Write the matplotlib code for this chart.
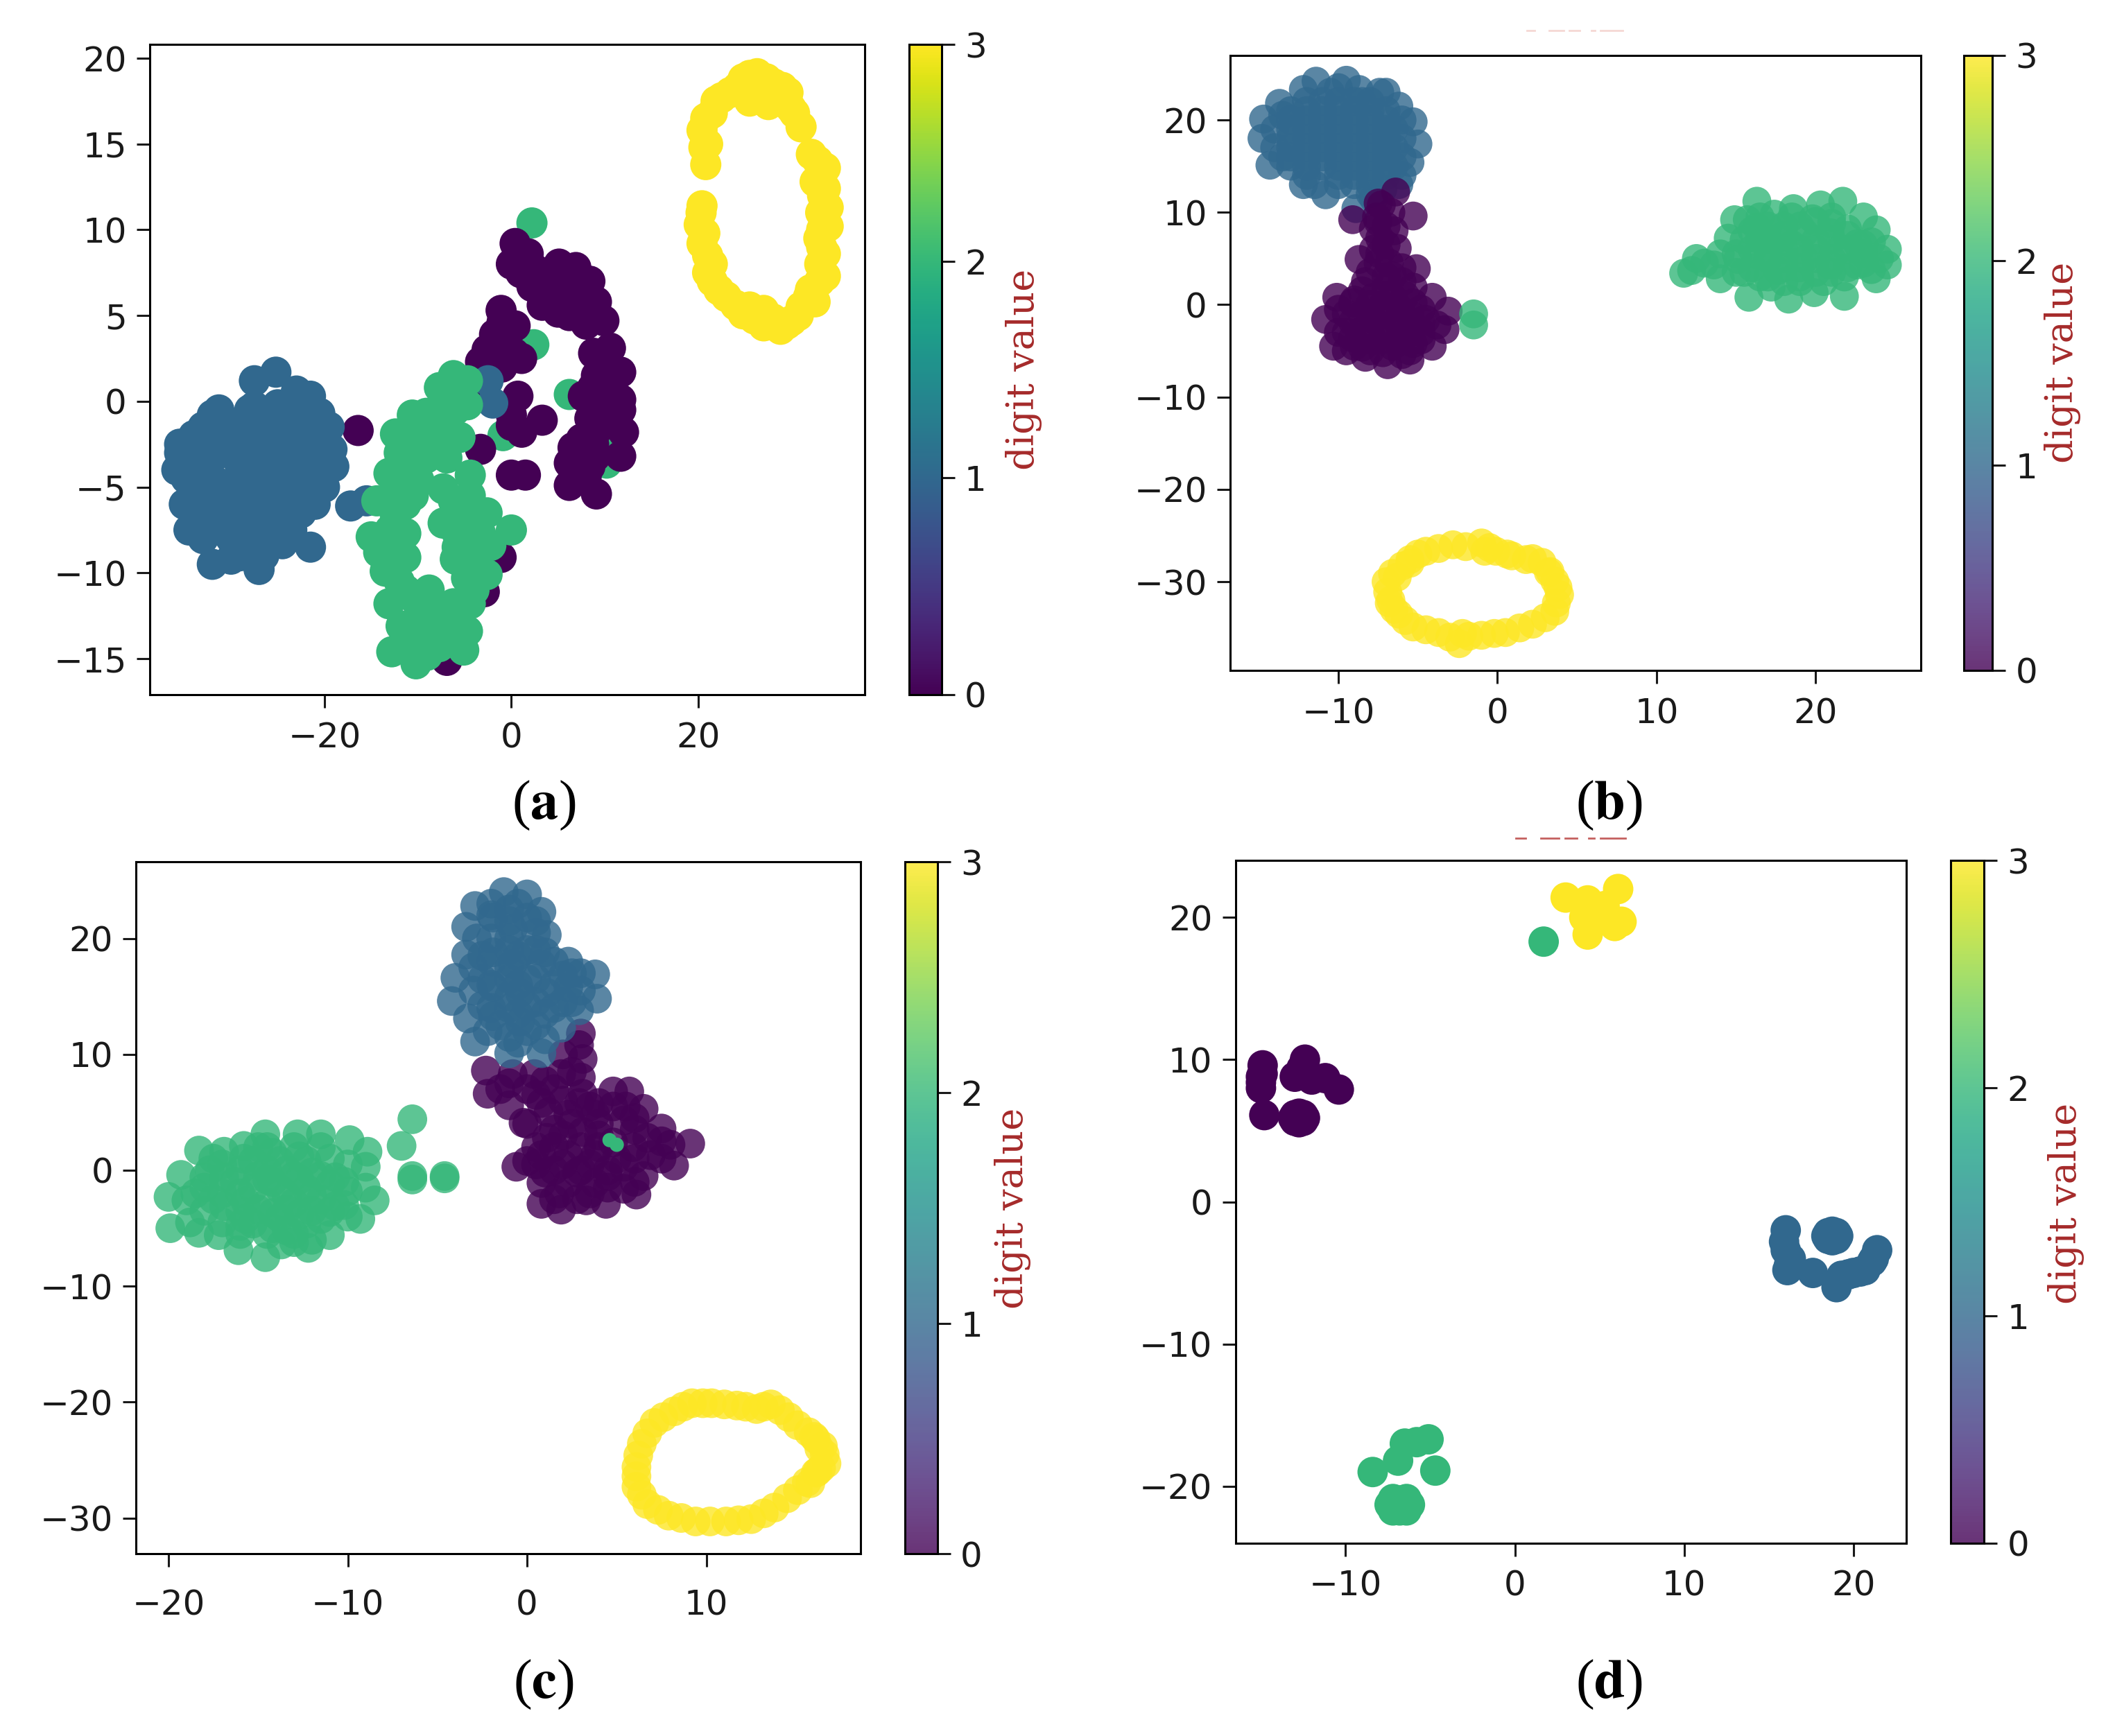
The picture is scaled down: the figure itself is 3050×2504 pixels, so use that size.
import matplotlib
matplotlib.use("Agg")
import matplotlib.pyplot as plt
from matplotlib.lines import Line2D
import numpy as np

plt.rcParams["mathtext.fontset"] = "stix"

DIGITS = [0, 1, 2, 3]

# panel a
a_xticks = [-20, 0, 20]
a_yticks = [-15, -10, -5, 0, 5, 10, 15, 20]
a_under2 = [(2.2, 10.4), (2.4, 3.3), (6.2, 0.4), (10.8, -2.1), (10.2, -3.6), (-0.9, -2)]
a_digit0 = [(0.4, 9.2), (0, 8), (1.8, 8.6), (3.3, 7.3), (5.1, 8), (6.9, 7.8), (8.4, 7), (9.1, 5.8), (9.9, 4.7),
            (8, 4.5), (6.2, 5), (3.3, 5.6), (2.2, 6.7), (4.7, 6.7), (6.2, 6.7), (7.7, 6.1), (5.5, 5.8),
            (-1.1, 5.3), (0.4, 4.4), (-1.8, 3.9), (-2.6, 3), (-0.4, 2.5), (-3.3, 2.3), (1.1, 2.5), (-3.6, 0.9),
            (0.7, 0.3), (0, -0.8), (3.3, -1.1), (1.1, -1.8), (0, -1.4), (0, -4.3), (1.5, -4.3),
            (10.6, 3.1), (8.8, 2.8), (11.7, 1.7), (9.1, 1.5), (7.7, 0.3), (11.7, 0.1), (9.5, 0), (11.7, -0.5),
            (8.4, -1), (10.2, -1), (12, -1.8), (11.7, -3.2), (6.6, -2.7), (8.8, -2.5), (6.2, -3.6), (8.4, -3.8),
            (6.2, -4.9), (9.1, -5.4), (8, -4.4), (-16.4, -1.7), (-3.3, -2.8), (-1.1, -9.1), (-2.9, -11.1),
            (-6.9, -15.1), (1, 7.5), (2.5, 7.7), (3.5, 6.3), (4.5, 7.3), (6, 7.5), (7.5, 7), (7, 5.5), (8.6, 5),
            (5, 5.2), (4.2, 5.6), (-1, 4.6), (-0.5, 3.6), (-2, 2.8), (-1, 2), (0.3, 2.8), (9.5, 2.2), (10.5, 1),
            (10.5, 0.2), (8.5, 0), (8.7, 0.8), (10.5, -0.5), (9, -1.8), (7.5, -3.2), (7.2, -4.2), (7.5, -2.2),
            (9, -3.2)]
a_digit1 = [(-25.2, 1.7), (-27.5, 1.2), (-31.3, -0.5), (-26, -0.8), (-23, 0.6), (-21.5, 0.3), (-20.5, -0.7),
            (-19.5, -1.5), (-19.2, -2.8), (-19, -3.8), (-20, -5), (-21, -6), (-22.5, -6.5), (-23.5, -7.5),
            (-24.5, -8.3), (-21.5, -8.5), (-26.5, -9), (-27, -9.8), (-29, -9), (-30, -9.2), (-32, -9.5), (-33, -8),
            (-34.5, -7.5), (-35, -6), (-35.8, -4), (-35.5, -3), (-35.5, -2.5), (-34, -2), (-33, -1.5), (-32, -0.8),
            (-33, -4), (-33, -6), (-31, -3), (-31, -5), (-31, -7), (-29, -1.5), (-29, -4), (-29, -6), (-28, -8),
            (-27, -2.5), (-27, -5), (-27, -7), (-25, -1.5), (-25, -4), (-25, -6), (-23, -2), (-23, -4), (-23, -5.5),
            (-21, -2), (-21, -4), (-17.2, -6.1), (-15.5, -5.8), (-2, -0.1), (-2.5, 1.2),
            (-34, -3.5), (-34, -5), (-34, -6.5), (-32, -2.5), (-32, -4.5), (-32, -6), (-32, -7.5), (-30, -1.5),
            (-30, -3), (-30, -5), (-30, -6.5), (-30, -8), (-28, -0.5), (-28, -2.5), (-28, -4), (-28, -5.5), (-28, -7),
            (-26, -1.5), (-26, -3.5), (-26, -5.5), (-26, -7), (-26, -8.2), (-24, -0.5), (-24, -2.5), (-24, -4.5),
            (-24, -6), (-24, -7), (-22, -1), (-22, -3), (-22, -5), (-20.5, -2.5), (-20.5, -3.5), (-33, -2.8),
            (-34.8, -4.5), (-31, -1.5), (-29, -8), (-27.5, -0.3), (-25, -0.2), (-22.5, -0.3), (-21, -1)]
a_digit2 = [(-6.2, 1.5), (-7.7, 0.8), (-4.7, 1.2), (-4.7, -0.2), (-10.6, -0.8), (-9.1, -0.7), (-6.9, -1.4),
            (-12.4, -1.9), (-10.6, -2.1), (-8.4, -2.2), (-5.5, -2.1), (-11.3, -3.3), (-9.1, -3.3), (-6.9, -3.3),
            (-13.1, -4.2), (-11.3, -4.7), (-9.9, -4.6), (-4.4, -4.3), (-7.3, -5.1), (-4.4, -5.5), (-14.4, -5.8),
            (-11.3, -6), (-6.2, -5.8), (-2.6, -6.5), (-12.4, -6.8), (-7.3, -7.1), (-4.7, -6.9), (0, -7.5),
            (-15, -7.9), (-11.3, -7.7), (-3.3, -7.7), (-5.8, -8.5), (-2.2, -8.4), (-14.2, -8.8), (-11.3, -9.1),
            (-4, -9.3), (-2.6, -10.1), (-13.5, -9.9), (-11.3, -11), (-8.8, -11), (-4, -11), (-13.1, -11.8),
            (-6.2, -11.8), (-4.4, -11.8), (-8, -12.4), (-11.8, -13.1), (-9.1, -13.2), (-4.7, -13.4), (-6.9, -13.5),
            (-12.8, -14.6), (-10.2, -15.3), (-7.7, -14.3), (-5.1, -14.5), (-10.6, -14.2),
            (-10, -1.5), (-8, -1.5), (-6, -0.5), (-5.8, 0.5), (-7, 0), (-12, -3), (-10, -3.5), (-8, -3), (-12, -5),
            (-10.5, -5.5), (-13, -7.5), (-13, -6), (-14, -8), (-12.5, -8.7), (-12.5, -10), (-6, -7.5), (-6, -9.2),
            (-5, -8.2), (-4.8, -10.3), (-10, -11.8), (-9, -12.3), (-7, -12.5), (-5.5, -12.5), (-10.5, -13), (-8, -13.5),
            (-11, -14), (-9, -14.8), (-6, -14), (-12, -10.5)]
a_digit3 = [(20.8, 13.8), (20.6, 14.8), (20.4, 15.8), (21.5, 16.8), (23.4, 18), (24.8, 18.8), (26.3, 19.1),
            (28.1, 18.5), (29.6, 18), (29.9, 17.1), (31, 16), (21.9, 17.5), (32.1, 14.4), (33.6, 13.6), (33.6, 12.4),
            (32.5, 12.8), (33.9, 11.3), (33.9, 10.2), (33.6, 8.6), (33.6, 7.3), (32.5, 5.8), (30.7, 5), (28.8, 4.2),
            (27, 4.4), (27, 5.3), (24.8, 5.1), (23, 6.1), (21.5, 7), (21.5, 8), (20.4, 9.2), (20.1, 10.3),
            (20.4, 11.4), (31.8, 6.1), (32.9, 9.5), (25.5, 17.5), (27.5, 17.3),
            (21, 15), (20.8, 16.5), (22.5, 17.7), (24.2, 18.3), (25.5, 19), (27.3, 18.8), (29, 18.3), (30.3, 16.8),
            (32.8, 14), (33, 13), (33.3, 12), (33.1, 11), (33.2, 10), (33.2, 9), (33, 8), (33, 7), (32, 6.5), (31, 5.5),
            (30, 4.7), (29.5, 4.5), (28, 4.8), (26, 4.8), (25.5, 5.5), (24, 5.6), (22.2, 6.5), (21, 7.5), (21, 8.5),
            (20.7, 9.8), (20.3, 11)]

# panel b
b_xticks = [-10, 0, 10, 20]
b_yticks = [-30, -20, -10, 0, 10, 20]
b_digit0 = [(-6.4, 12.2), (-5.3, 9.6), (-9.1, 9.2), (-7.6, 9.5), (-7.4, 7.2), (-6.3, 6.1), (-8.7, 4.9), (-5.1, 3.9),
            (-8.3, 2.5), (-6.6, 3.1), (-5.3, 1.9), (-10.8, -1.6), (-10.1, 0.8), (-10.3, -4.5), (-9.1, -3.6),
            (-8.3, -5.7), (-6.9, -6.5), (-5.5, -6), (-4.1, -4.5), (-3.3, -2.7), (-3.1, -0.7), (-4.1, 0.8), (-9.1, 0.2),
            (-7.8, 0.8), (-6.6, 0.8), (-5.3, 0.2), (-9.1, -1.9), (-7.8, -1.6), (-6.6, -2.2), (-5.3, -2.2),
            (-4.5, -1.6), (-7.8, -3.9), (-6.6, -4.5), (-5.3, -4.2), (-7.4, 5.5), (-7, 1.8), (-7.3, 10.8),
            (-10, -0.5), (-10, -3), (-9.5, -5), (-8.5, -1), (-8.5, -2.8), (-8.5, -4.6), (-7.2, 0), (-7.2, -2.8),
            (-7.2, -5.2), (-6, -1), (-6, -3.4), (-6, -5.4), (-4.8, -0.5), (-4.8, -3), (-3.8, -2.2), (-8, 3.5), (-6, 2.5),
            (-7.8, 6), (-6.8, 4.5), (-7.8, 8.2), (-7, 8.5), (-6.7, 10), (-8.5, 1.5), (-5.8, 1), (-7.5, 11),
            (-9.5, -1), (-9.5, -3), (-9, 0.5), (-9, -4.5), (-8, 0), (-8, -1), (-8, -3), (-8, -5), (-7, -0.8), (-7, -3.7),
            (-7, 1), (-6.3, -0.2), (-6.3, -1.8), (-6.3, -4), (-5.5, -1), (-5.5, -3), (-5.5, -5), (-4.8, -1.8), (-4.8, -3.8),
            (-7, 3), (-7.5, 4.5), (-6, 4), (-7, 6.5), (-7.5, 9), (-6.5, 8)]
b_digit1 = [(-14.7, 20.1), (-14.8, 18), (-14.3, 15.1), (-13.7, 21.8), (-12.2, 23.3), (-11.4, 24.2), (-9.5, 24.3),
            (-8.7, 23.3), (-7.4, 23), (-6.2, 21.5), (-5.3, 19.8), (-5, 17.4), (-5.5, 15.4), (-6.2, 13), (-12.2, 13),
            (-10.8, 11.9), (-8.9, 10.4), (-7.2, 12.5), (-13, 15), (-13, 17), (-13, 19), (-13, 21), (-11, 15), (-11, 17),
            (-11, 19), (-11, 21), (-9, 13), (-9, 15), (-9, 17), (-9, 19), (-9, 21), (-7, 15), (-7, 17), (-7, 19),
            (-7, 21), (-10.5, 23), (-8.5, 22),
            (-14, 19), (-14, 17), (-13.5, 16), (-12, 14), (-12, 16), (-12, 18), (-12, 20), (-12, 22), (-10, 13), (-10, 15),
            (-10, 17), (-10, 19), (-10, 21), (-8, 12), (-8, 14), (-8, 16), (-8, 18), (-8, 20), (-8, 22), (-6, 14), (-6, 16),
            (-6, 18), (-6, 20), (-11.5, 13), (-10, 23.5), (-7.8, 11.5), (-13.5, 20.5), (-7, 23),
            (-12, 15), (-12, 17), (-12, 19), (-12, 21), (-11, 16), (-11, 18), (-11, 20), (-11, 22), (-10, 14), (-10, 16),
            (-10, 18), (-10, 20), (-10, 22), (-9, 14), (-9, 16), (-9, 18), (-9, 20), (-9, 22), (-8, 13), (-8, 15), (-8, 17),
            (-8, 19), (-8, 21), (-7, 14), (-7, 16), (-7, 18), (-7, 20), (-13, 16), (-13, 18), (-13, 20), (-6.5, 15),
            (-6.5, 17), (-6.5, 19)]
b_digit2 = [(-1.5, -1), (-1.5, -2.2), (11.7, 3.4), (12.5, 5), (12.2, 3.7), (13.6, 4.3), (14, 2.8), (14.9, 9.2),
            (14.5, 7.2), (16.3, 11.2), (15.8, 0.8), (17.2, 1.9), (18.3, 0.6), (19.9, 1.3), (21.8, 0.9), (23.8, 2.8),
            (24.5, 4.3), (24.5, 6), (23.8, 8.1), (23, 9.5), (21.7, 11.2), (20.3, 10.8), (18.6, 10.4), (17.4, 9.8),
            (16.3, 8.4), (15.1, 4.9), (16.3, 5.4), (17.6, 7.2), (17.6, 3.7), (19.3, 7.8), (19.3, 4.9), (20.9, 7.8),
            (20.9, 4.3), (22.6, 6.6), (22.6, 4.3),
            (15, 3.5), (15.5, 7), (16.5, 3), (16.5, 7), (17, 5.5), (18, 2.5), (18, 5), (18, 8.5), (18.5, 6.5), (19, 3),
            (19.8, 9.3), (20, 6), (20.5, 2.5), (21, 9.5), (21.5, 6), (21.8, 3), (22, 8.2), (23, 5.5), (23.5, 3.8),
            (23.5, 6.8), (24, 5), (15.7, 9.2), (14, 5.5), (13, 4.5), (16.5, 9.5),
            (16, 4), (16, 6), (17, 3), (17, 5), (17, 7), (17, 8.5), (18, 4), (18, 6), (18, 7.5), (19, 2.5), (19, 4), (19, 6),
            (19, 8.5), (20, 3.5), (20, 5), (20, 7), (20, 9), (21, 3.5), (21, 5), (21, 7), (21, 8.8), (22, 4), (22, 6),
            (22, 7.5), (23, 4.5), (23, 6.5), (15, 5.5), (15.5, 3.5), (18.5, 9.5), (16, 8)]
b_digit3 = [(-6.9, -31.1), (-6.6, -29.1), (-5.5, -27.6), (-4.5, -26.7), (-2.8, -26), (-1, -25.8), (-0.1, -26.7),
            (1.8, -27.6), (2.8, -27.9), (3.6, -29.9), (3.9, -31.4), (3.6, -33.2), (2.2, -34.6), (0.5, -35.5),
            (-1, -35.8), (-2.4, -36.7), (-3.7, -35.5), (-5.3, -34.9), (-6.2, -33.5), (-6.8, -32.3), (-0.8, -26.7),
            (0.9, -27.2), (-2.2, -35.6),
            (-7, -30), (-6.7, -32), (-6.5, -33), (-6, -28.3), (-5, -27), (-3.7, -26.4), (-2, -26.2), (-0.5, -26.3),
            (0.6, -27), (2.2, -27.5), (3.3, -28.9), (3.8, -30.6), (3.7, -32.3), (3, -33.9), (1.4, -35), (-0.2, -35.6),
            (-1.8, -35.9), (-3, -36), (-4.5, -35.2), (-5.8, -34.2), (-5.5, -28), (3.2, -29), (-6.3, -29.5)]

# panel c
c_xticks = [-20, -10, 0, 10]
c_yticks = [-30, -20, -10, 0, 10, 20]
c_digit0 = [(3, 11.8), (3.1, 9.6), (-2.3, 8.6), (-2.2, 6.6), (-1, 5.6), (-0.2, 4.1), (-0.6, 0.3), (0.8, -2.9),
            (1.9, -3.4), (3.3, -2.6), (4.4, -2.9), (6.1, -2.1), (8.2, 0.4), (9.1, 2.3), (7.5, 3.6), (6.5, 5.3),
            (5.7, 6.8), (4.8, 6.8), (3.1, 6.6), (1.9, 8.3), (0.4, 8.3), (-0.8, 8.3), (0.8, 5.8), (2.3, 4.8), (3.8, 4.8),
            (5.4, 4.3), (0.8, 1.3), (2.3, 1.3), (3.8, 1.3), (5.4, 0.3), (6.9, 1.3), (0.8, -1.1), (2.3, -1.1),
            (3.8, -1.1), (5.4, -1.6), (1.1, 2.8), (3.1, 3.3), (6.7, 2.8),
            (-1.5, 7), (0, 7), (1.5, 7), (3, 8), (2.9, 10.8), (2, 10), (4, 5.8), (5.5, 5.5), (0, 4), (2, 3), (4, 3), (6, 3.5),
            (8, 2.2), (7.5, 1), (6.5, -0.5), (1.5, 0), (3, 0), (4.5, 0), (0, 0.8), (2.8, -2.5), (4.5, -1.5), (1.5, -2.5),
            (1.2, 5), (2.9, 5.8),
            (1, 7.7), (0.5, 6.5), (2, 6), (3.5, 5.5), (4.8, 2.4), (4.8, 5.5), (1.5, 3.5), (0.5, 2), (1.5, 2), (3, 2), (4, 2),
            (5.9, 2), (0.5, 0.5), (2, 0.5), (3.5, 0.5), (5, 1), (6, 1), (1, -0.2), (2.8, -0.2), (4.5, -0.5), (6, -1),
            (1.8, -2), (3.5, -2), (4, 4), (2.5, 4), (6, 4.5), (7.5, 2.5), (-1, 7.5), (2.5, 8.5)]
c_digit1 = [(-4.2, 14.6), (-4, 16.6), (-3.4, 18.6), (-3.4, 21), (-2.9, 22.8), (-1.3, 24), (0, 23.8), (0.8, 22.3),
            (1.1, 20.3), (2.3, 18), (3.8, 16.9), (3.9, 14.8), (2.9, 13.8), (1.9, 12.3), (0.8, 10.1), (-1, 10.1),
            (-2.9, 11.1), (-3.3, 13.1), (-1.9, 21.8), (-0.8, 20.8), (-1.9, 18.8), (-0.8, 17.8), (0.8, 17.8), (-1.9, 15.8),
            (-0.4, 15.3), (1.1, 15.3), (-1.9, 13.3), (-0.4, 12.8), (2.3, 15.8),
            (-3, 15.5), (-3, 17.5), (-2.8, 20), (-2.2, 12), (-1, 11.5), (-1, 14), (-1, 16.5), (-1, 19), (-1, 22.5), (0, 12),
            (0, 14.2), (0, 16.5), (0, 19), (0, 21.8), (1, 11.3), (1, 13.5), (1, 18.8), (2, 14.5), (2, 16.8), (3, 15.5),
            (3, 17), (-2, 23), (0.5, 20.5), (-2.5, 14.2),
            (-2, 14), (-2, 16), (-2, 18), (-2, 20), (-2, 22), (-1.5, 12.5), (-1, 15), (-1, 17.5), (-1, 20), (-1, 21.5),
            (-0.5, 11), (-0.5, 13.5), (-0.5, 16), (-0.5, 18.5), (-0.5, 23), (0.5, 12.5), (0.5, 14.5), (0.5, 16.5), (0.5, 19),
            (0.5, 21.5), (1.5, 14), (1.5, 16), (1.5, 18), (-2.5, 16.5), (-2.5, 18.5), (2.5, 17), (2.5, 14.5)]
c_digit2 = [(-20, -2.3), (-19.3, -0.4), (-18.3, 1.7), (-19.9, -5), (-18.3, -5.4), (-17.2, -5.6), (-16.1, -6.9),
            (-14.6, -7.5), (-13.7, -6.4), (-12.2, -6.7), (-11, -5.6), (-9.3, -4.2), (-8.5, -2.6), (-9, 0.3), (-8.9, 1.6),
            (-9.9, 2.6), (-11.5, 3.1), (-12.8, 3.1), (-14.6, 3.1), (-15.8, 2.1), (-16.9, 1.6), (-18, -0.6), (-19, -2.6),
            (-16.9, -0.6), (-16.9, -3.1), (-15.3, 0.8), (-15.3, -1.6), (-15.3, -4.6), (-13.8, 0.8), (-13.8, -1.6),
            (-13.8, -4.1), (-12.3, 0.8), (-12.3, -1.6), (-12.3, -4.6), (-10.7, -0.6), (-10.7, -3.1),
            (-6.4, 4.4), (-7, 2.1), (-6.4, -0.5), (-6.4, -0.8), (-4.6, -0.5), (-4.6, -0.7),
            (-18.5, -2), (-18, -3.5), (-17.5, 1), (-17, -4.5), (-16, 0), (-16, -2), (-16, -3.5), (-16, -5.5), (-14.5, 2),
            (-14.5, 0), (-14.5, -0.8), (-14.5, -2.8), (-14.5, -5.5), (-13, 2), (-13, -0.5), (-13, -2.8), (-13, -5.5),
            (-11.5, 2), (-11.5, -0.5), (-11.5, -2.5), (-11.5, -4.2), (-10, 0.5), (-10, -1.8), (-10, -4), (-9, -1.5),
            (-18.8, -4.5), (-17.7, 0), (-12, -6),
            (-18, -1.5), (-17.5, -2.5), (-17, 0.5), (-17, -2), (-16.3, -1), (-15.8, 1), (-15.7, -2.7), (-15.7, -4.2),
            (-15, -0.5), (-15, -3.4), (-14.2, 1.5), (-14.2, -1), (-14.2, -3.7), (-14.2, -5), (-13.4, 0), (-13.4, -2.2),
            (-13.4, -3.4), (-13.4, -5.2), (-12.7, 1.2), (-12.7, -0.8), (-12.7, -3.8), (-12, -0.2), (-12, -2.2), (-12, -3.5),
            (-11, -1.2), (-11, -3.6), (-11, 1), (-10.2, -1), (-10.2, -3), (-16, -4.8), (-13, -6.2), (-15, 2)]
c_digit3 = [(6.1, -25.6), (6.4, -23.6), (7.1, -21.8), (8.2, -20.8), (9.2, -20.1), (10.3, -20.1), (11.7, -20.3),
            (12.8, -20.6), (13.6, -20.2), (14.6, -21.3), (15.7, -22.6), (16.5, -23.8), (16.7, -25.3), (16.1, -26.1),
            (15.1, -27.6), (13.8, -29.1), (12.5, -30.1), (11.1, -30.3), (9.4, -30.3), (7.9, -29.8), (6.7, -28.8),
            (6.1, -27.3),
            (6.2, -24.6), (6.7, -22.7), (7.6, -21.3), (8.7, -20.4), (9.8, -20.1), (11, -20.2), (12.2, -20.4), (13.2, -20.4),
            (14.1, -20.7), (15.1, -22), (16.1, -23.2), (16.6, -24.5), (16.4, -25.7), (15.6, -26.9), (14.5, -28.3),
            (13.2, -29.6), (11.8, -30.2), (10.2, -30.3), (8.6, -30), (7.3, -29.3), (6.4, -28), (6.1, -26.4),
            (16.3, -24), (16.2, -26), (16, -23), (15.8, -27)]
c_hidden2 = [(4.6, 2.6), (5, 2.2)]

# panel d
d_xticks = [-10, 0, 10, 20]
d_yticks = [-20, -10, 0, 10, 20]
d_digit0 = [(-14.9, 9.6), (-14.9, 9), (-15, 8.8), (-15, 8.4), (-15, 8), (-14.8, 6.1), (-12.4, 10), (-13, 8.8), (-12, 8.6),
            (-12.6, 9.4), (-11.2, 8.7), (-10.4, 7.9), (-13.1, 5.9), (-12.4, 5.9), (-12.75, 6.2), (-12.75, 5.6),
            (-13, 6.1), (-12.5, 6.1), (-13, 5.7), (-12.5, 5.7)]
d_digit1 = [(16, -2), (15.9, -2.8), (16, -3.4), (16.2, -4.4), (16.3, -4), (16.1, -4.8), (17.6, -5), (19, -6), (19.3, -5.2),
            (19.7, -5.1), (20, -5), (20.4, -4.9), (20.7, -4.8), (21.2, -4), (21.1, -4.2), (21.4, -3.4),
            (18.4, -2.4), (19.1, -2.4), (18.75, -2.1), (18.75, -2.7), (18.5, -2.2), (19, -2.2), (18.5, -2.6), (19, -2.6)]
d_digit2 = [(1.7, 18.3), (-8.4, -19), (-6.9, -18.2), (-6.5, -17), (-5.1, -16.7), (-4.7, -18.9), (-5.8, -16.9),
            (-7.4, -21.3), (-6.2, -21.3), (-6.8, -21), (-6.8, -21.7), (-7.2, -20.9), (-6.4, -20.9), (-7.2, -21.7),
            (-6.4, -21.7)]
d_digit3 = [(3, 21.4), (6.1, 22), (4.3, 21.2), (5.3, 20.8), (4.1, 20), (4.9, 20), (4.3, 18.8), (5.9, 19.4), (6.3, 19.7)]

# layout in px of the 1568x1287 view: axes box, colorbar x range, limits, alpha of points and colorbar, draw order
W, H = 1568, 1287
panels = [
    dict(name="a", box=(111, 641, 33, 515), cb=(674, 698), xlim=(-38.7, 37.8), ylim=(-17.1, 20.8),
         xticks=a_xticks, yticks=a_yticks, digits=[a_digit0, a_digit1, a_digit2, a_digit3], order=[0, 1, 2, 3],
         alpha=1.0, cb_alpha=1.0, s=1050, xpad=14, label=(403, 597), cb_label=(759, 274)),
    dict(name="b", box=(912, 1424, 41, 497), cb=(1456, 1477), xlim=(-16.8, 26.6), ylim=(-39.6, 27.0),
         xticks=b_xticks, yticks=b_yticks, digits=[b_digit0, b_digit1, b_digit2, b_digit3], order=[1, 0, 2, 3],
         alpha=0.8, cb_alpha=0.8, s=900, xpad=14, label=(1193, 597), cb_label=(1529, 269)),
    dict(name="c", box=(101, 638, 639, 1152), cb=(671, 695), xlim=(-21.8, 18.6), ylim=(-33.1, 26.6),
         xticks=c_xticks, yticks=c_yticks, digits=[c_digit0, c_digit1, c_digit2, c_digit3], order=[0, 1, 2, 3],
         alpha=0.8, cb_alpha=0.8, s=950, xpad=22, label=(403, 1249), cb_label=(751, 896)),
    dict(name="d", box=(916, 1413, 638, 1144), cb=(1446, 1471), xlim=(-16.5, 23.1), ylim=(-24, 24),
         xticks=d_xticks, yticks=d_yticks, digits=[d_digit0, d_digit1, d_digit2, d_digit3], order=[0, 1, 2, 3],
         alpha=1.0, cb_alpha=0.8, s=1000, xpad=13, label=(1193, 1249), cb_label=(1532, 892)),
]

# cut-off title remains above panels b and d, full-size px
title_scraps = [
    dict(y=44, color="#f5d8d4", spans=[(2202, 2213), (2234, 2255), (2263, 2278), (2295, 2300), (2308, 2340)]),
    dict(y=1209, color="#c4605f", spans=[(2186, 2200), (2222, 2248), (2257, 2274), (2291, 2299), (2308, 2344)]),
]

fig = plt.figure(figsize=(30.5, 25.04), dpi=100)


def rect(x0, x1, y0, y1):
    return [x0 / W, 1 - y1 / H, (x1 - x0) / W, (y1 - y0) / H]


for p in panels:
    x0, x1, y0, y1 = p["box"]
    ax = fig.add_axes(rect(x0, x1, y0, y1))
    if p["name"] == "a":
        # these green points sit under the dark ones
        pts = np.array(a_under2)
        ax.scatter(pts[:, 0], pts[:, 1], c=[2] * len(pts), s=p["s"], cmap="viridis", vmin=0, vmax=3, linewidths=0)
    xs, ys, cs = [], [], []
    for d in p["order"]:
        pts = np.array(p["digits"][d])
        xs.extend(pts[:, 0])
        ys.extend(pts[:, 1])
        cs.extend([DIGITS[d]] * len(pts))
    sc = ax.scatter(xs, ys, c=cs, s=p["s"], cmap="viridis", vmin=0, vmax=3, alpha=p["alpha"], linewidths=0)
    if p["name"] == "c":
        pts = np.array(c_hidden2)
        ax.scatter(pts[:, 0], pts[:, 1], c=[2] * len(pts), s=220, cmap="viridis", vmin=0, vmax=3, linewidths=0)
    ax.set_xlim(p["xlim"])
    ax.set_ylim(p["ylim"])
    ax.set_xticks(p["xticks"])
    ax.set_yticks(p["yticks"])
    ax.tick_params(labelsize=36, length=14, width=2.2, pad=10, colors="#1a1a1a")
    ax.tick_params(axis="x", pad=p["xpad"])
    for s in ax.spines.values():
        s.set_linewidth(2.2)

    cax = fig.add_axes(rect(p["cb"][0], p["cb"][1], y0, y1))
    sm = plt.cm.ScalarMappable(norm=sc.norm, cmap="viridis")
    cb = fig.colorbar(sm, cax=cax, ticks=DIGITS, alpha=p["cb_alpha"])
    cb.ax.tick_params(labelsize=36, length=14, width=2.2, pad=10, colors="#1a1a1a")
    cb.outline.set_linewidth(2.2)

    fig.text(p["cb_label"][0] / W, 1 - p["cb_label"][1] / H, "digit value", rotation=90, ha="center", va="center",
             family="DejaVu Serif", fontsize=39, color="#a52a2a")
    fig.text(p["label"][0] / W, 1 - p["label"][1] / H, "($\\mathbf{%s}$)" % p["name"], ha="center", va="center",
             family="Liberation Serif", fontsize=58, color="black")

for scrap in title_scraps:
    fy = 1 - scrap["y"] / 2504
    for a, b in scrap["spans"]:
        fig.add_artist(Line2D([a / 3050, b / 3050], [fy, fy], color=scrap["color"], lw=2))

fig.savefig("out.png", dpi=100, facecolor="white")
